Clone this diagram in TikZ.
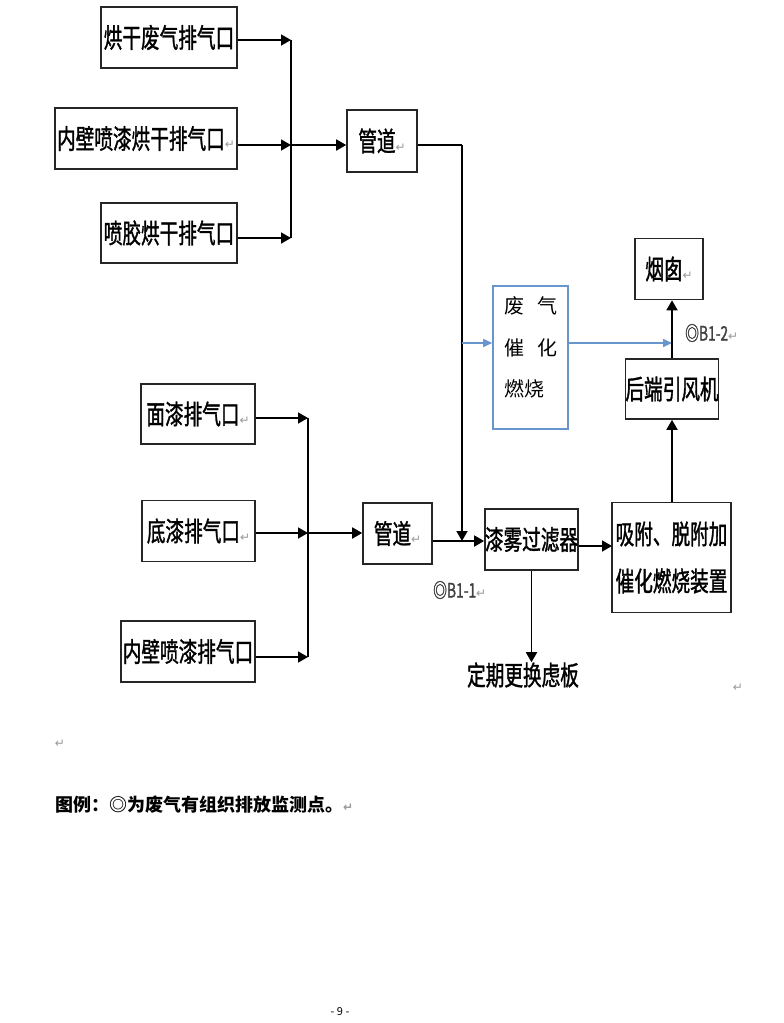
\documentclass[tikz,border=0pt]{standalone}
\usepackage{fontspec}
\setmainfont{Noto Sans CJK SC}
\newfontfamily\boxfont[FakeStretch=0.69,FakeBold=1.2]{Noto Sans CJK SC}
\newfontfamily\markfont{DejaVu Sans}
\usepackage{xcolor}
\usetikzlibrary{arrows.meta}
\definecolor{catblue}{RGB}{104,150,204}
\newcommand\retmark{{\markfont\color{black!40}\fontsize{12}{12}\selectfont ↵}}

\tikzset{
  unit/.style={draw=black!85,line width=1.6pt,inner sep=0pt,
    font=\boxfont\fontsize{27}{30}\selectfont},
  catunit/.style={draw=catblue,line width=1.6pt,inner sep=0pt},
  flow/.style={line width=1.8pt,-{Triangle[length=10pt,width=11pt]}},
  pipe/.style={line width=1.8pt},
  blueflow/.style={draw=catblue,line width=1.5pt,-{Triangle[length=9pt,width=8pt]}},
  tag/.style={inner sep=0pt,font=\boxfont\fontsize{20}{22}\selectfont,text=black!75},
}

\begin{document}
\begin{tikzpicture}[x=1pt,y=-1pt]
\fill[white] (0,0) rectangle (784,1023);
\useasboundingbox (0,0) rectangle (784,1023);

% Drying exhaust, upper branch.
\node[unit,minimum width=136pt,minimum height=61pt] (dryA) at (169,37.5) {烘干废气排气口};
\node[unit,minimum width=182pt,minimum height=61pt] (dryB) at (146,138.5) {内壁喷漆烘干排气口\retmark};
\node[unit,minimum width=136pt,minimum height=60pt] (dryC) at (169,233) {喷胶烘干排气口};
\node[unit,minimum width=70pt,minimum height=62pt] (pipeU) at (382,141) {管道\retmark};

\coordinate (joinU1) at (291,40);
\coordinate (joinU2) at (291,145);
\coordinate (joinU3) at (291,238);
\draw[flow] (dryA.east |- joinU1) -- (joinU1);
\draw[flow] (dryB.east |- joinU2) -- (joinU2);
\draw[flow] (dryC.east |- joinU3) -- (joinU3);
\draw[pipe] (joinU1) -- (joinU3);
\draw[flow] (joinU2) -- (pipeU.west |- joinU2);

% Catalytic burner and stack.
\node[catunit,minimum width=75pt,minimum height=143pt] (catbox) at (530.5,357.5) {};
\node[inner sep=0pt,align=left,font=\fontsize{20}{41.5}\selectfont] (cattxt)
  at ([yshift=10pt]catbox.center) {废\hspace{13pt}气\\催\hspace{13pt}化\\燃烧};
\node[unit,minimum width=68pt,minimum height=61pt] (stack) at (669,269) {烟囱\retmark};
\node[unit,minimum width=92pt,minimum height=60pt] (fan) at (672,389) {后端引风机};

% Paint exhaust, lower branch.
\node[unit,minimum width=114pt,minimum height=60pt] (coatT) at (198,414) {面漆排气口\retmark};
\node[unit,minimum width=113pt,minimum height=61pt] (coatB) at (198.5,531) {底漆排气口\retmark};
\node[unit,minimum width=134pt,minimum height=61pt] (coatI) at (188,651.5) {内壁喷漆排气口};
\node[unit,minimum width=69pt,minimum height=61pt] (pipeL) at (397.5,533.5) {管道\retmark};
\node[unit,minimum width=93pt,minimum height=61pt] (filter) at (531.5,539.5) {漆雾过滤器};
\node[unit,minimum width=119pt,minimum height=110pt,align=center,
  font=\boxfont\fontsize{27}{47}\selectfont] (adsorb) at (671.5,557.5)
  {吸附、脱附加\\催化燃烧装置};
\node[inner sep=0pt,font=\boxfont\fontsize{27}{30}\selectfont] (swap) at (523,675) {定期更换虑板};

\coordinate (joinL1) at (308,418);
\coordinate (joinL2) at (308,533);
\coordinate (joinL3) at (308,657);
\draw[flow] (coatT.east |- joinL1) -- (joinL1);
\draw[flow] (coatB.east |- joinL2) -- (joinL2);
\draw[flow] (coatI.east |- joinL3) -- (joinL3);
\draw[pipe] (joinL1) -- (joinL3);
\draw[flow] (joinL2) -- (pipeL.west |- joinL2);

% Upper duct joins the filter line.
\coordinate (bendU) at (462,145);
\coordinate (meet) at (462,541);
\coordinate (tapB) at (462,343);
\coordinate (tapR) at (672,343);
\coordinate (feedA) at (612,546);
\draw[pipe] (pipeU.east |- bendU) -- (bendU);
\draw[flow] (bendU) -- (meet);
\draw[blueflow] (tapB) -- (catbox.west |- tapB);
\draw[blueflow] (catbox.east |- tapB) -- (tapR);
\draw[flow] (pipeL.east |- meet) -- (filter.west |- meet);
\draw[flow] (filter.east |- feedA) -- (feedA);
\draw[flow] (filter.south) -- (filter.south |- swap.north);
\draw[flow] (adsorb.north -| fan.south) -- (fan.south);
\draw[flow] (fan.north) -- (fan.north |- stack.south);

% Monitoring points.
\node[tag,anchor=west] (pointA) at (433,590) {◎B1-1\retmark};
\node[tag,anchor=west] (pointB) at (685,333) {◎B1-2\retmark};

% Legend and page number.
\node[inner sep=0pt] (markA) at (738,688) {\retmark};
\node[inner sep=0pt] (markB) at (60,744) {\retmark};
\node[inner sep=0pt,anchor=west,font=\bfseries\fontsize{18}{20}\selectfont] (legend)
  at (55,805) {图例：◎为废气有组织排放监测点。\retmark};
\node[inner sep=0pt,font=\fontsize{11}{12}\selectfont] (page) at (340,1012) {- 9 -};
\end{tikzpicture}
\end{document}
